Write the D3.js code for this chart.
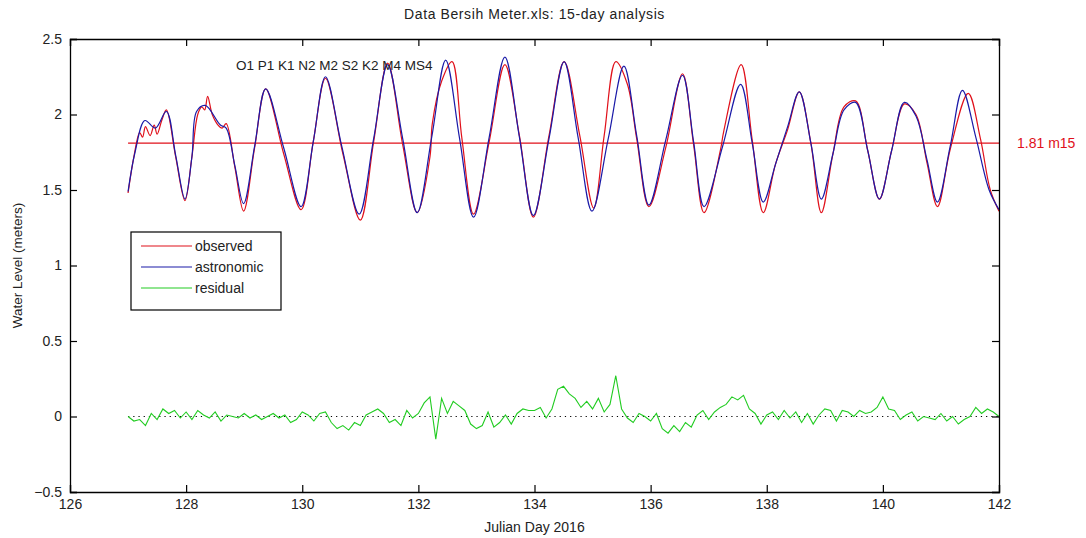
<!DOCTYPE html>
<html>
<head>
<meta charset="utf-8">
<script src="https://cdn.jsdelivr.net/npm/d3@7"></script>
<style>
    body { margin: 0; background: #ffffff; }
    #renderBox { display: block; }
    text { font-family: 'Liberation Sans', Arial, sans-serif; fill: #222; }
</style>
</head>
<body>
<svg id="renderBox" width="1086" height="538"></svg>
<script>

// [julian day, meters]
const astronomic = [
    [127.0,1.49],[127.12,1.75],[127.29,1.96],[127.47,1.91],[127.66,2.02],[127.82,1.73],[127.98,1.44],
    [128.1,1.72],[128.18,2.02],[128.33,2.06],[128.59,1.93],[128.69,1.91],[128.84,1.66],[128.99,1.41],
    [129.18,1.79],[129.37,2.17],[129.68,1.78],[129.98,1.39],[130.19,1.82],[130.40,2.25],[130.68,1.79],
    [130.98,1.34],[131.23,1.84],[131.47,2.33],[131.73,1.84],[131.98,1.35],[132.23,1.85],[132.47,2.36],
    [132.71,1.84],[132.95,1.32],[133.22,1.85],[133.49,2.38],[133.74,1.85],[133.98,1.33],[134.25,1.84],
    [134.51,2.35],[134.75,1.85],[134.99,1.36],[135.27,1.84],[135.54,2.32],[135.76,1.86],[135.97,1.40],
    [136.26,1.83],[136.55,2.26],[136.74,1.82],[136.92,1.39],[137.24,1.79],[137.55,2.20],[137.75,1.81],
    [137.94,1.42],[138.15,1.67],[138.36,1.92],[138.56,2.15],[138.76,1.81],[138.94,1.44],[139.14,1.74],
    [139.33,2.03],[139.53,2.08],[139.74,1.76],[139.94,1.44],[140.15,1.76],[140.37,2.08],[140.57,1.99],
    [140.76,1.70],[140.94,1.42],[141.16,1.79],[141.37,2.16],[141.6,1.85],[141.83,1.50],[142.0,1.37]
];

const observed = [
    [127.0,1.48],[127.1,1.72],[127.2,1.88],[127.25,1.85],[127.3,1.92],[127.38,1.86],[127.45,1.93],
    [127.5,1.87],[127.58,1.96],[127.66,2.03],[127.82,1.72],[127.98,1.43],[128.1,1.72],[128.2,2.00],
    [128.27,2.05],[128.32,2.03],[128.37,2.12],[128.45,2.00],[128.55,1.93],[128.62,1.91],[128.69,1.94],
    [128.84,1.65],[128.99,1.36],[129.18,1.78],[129.37,2.17],[129.68,1.74],[129.98,1.37],[130.19,1.82],
    [130.40,2.24],[130.70,1.74],[131.0,1.30],[131.23,1.82],[131.47,2.34],[131.73,1.80],[131.98,1.35],
    [132.2,1.72],[132.24,1.94],[132.40,2.22],[132.58,2.35],[132.75,1.84],[132.95,1.34],[133.22,1.82],
    [133.49,2.33],[133.74,1.86],[133.98,1.32],[134.25,1.86],[134.51,2.35],[134.78,1.86],[135.02,1.38],
    [135.2,1.86],[135.40,2.35],[135.6,2.20],[135.76,1.84],[135.97,1.39],[136.26,1.78],[136.55,2.27],
    [136.74,1.80],[136.92,1.35],[137.2,1.76],[137.26,1.89],[137.56,2.33],[137.75,1.83],[137.94,1.35],
    [138.15,1.67],[138.36,1.90],[138.56,2.15],[138.76,1.81],[138.94,1.35],[139.14,1.74],[139.33,2.05],
    [139.53,2.09],[139.74,1.76],[139.94,1.44],[140.15,1.76],[140.37,2.07],[140.57,2.00],[140.76,1.68],
    [140.94,1.39],[141.16,1.77],[141.47,2.14],[141.68,1.84],[141.85,1.50],[142.0,1.36]
];

// residual every 0.1 day from 127.0 to 142.0
const residualStart = 127.0;
const residualStep  = 0.1;
const residual = [
     0.00,-0.03,-0.02,-0.06, 0.02,-0.02, 0.05, 0.02, 0.04,-0.01,
     0.03,-0.02, 0.04, 0.01,-0.01, 0.03,-0.03, 0.01, 0.00,-0.01,
     0.02,-0.01, 0.01,-0.02, 0.00, 0.02,-0.01, 0.01,-0.04,-0.02,
     0.03, 0.01,-0.03, 0.02, 0.03,-0.04,-0.08,-0.06,-0.09,-0.04,
    -0.06, 0.01, 0.03, 0.05, 0.02,-0.04,-0.02,-0.06, 0.04,-0.01,
     0.02, 0.09, 0.13,-0.15, 0.12, 0.02, 0.10, 0.07, 0.04,-0.05,
    -0.08,-0.06, 0.03,-0.07,-0.04, 0.01,-0.05, 0.02, 0.05, 0.04,
     0.04, 0.06,-0.01, 0.05, 0.18, 0.20, 0.15, 0.12, 0.06, 0.10,
     0.05, 0.12, 0.03, 0.08, 0.27, 0.05,-0.01,-0.04, 0.02, 0.00,
    -0.03, 0.02,-0.08,-0.11,-0.06,-0.10,-0.04,-0.07, 0.01, 0.04,
    -0.02, 0.03, 0.06, 0.08, 0.13, 0.11, 0.14, 0.05, 0.02,-0.05,
     0.01, 0.03,-0.02, 0.04,-0.01, 0.03,-0.04, 0.02,-0.05, 0.01,
     0.05, 0.04,-0.03, 0.04, 0.03, 0.00, 0.04, 0.02, 0.03, 0.06,
     0.13, 0.05, 0.04,-0.02, 0.01, 0.03,-0.03, 0.00,-0.01,-0.02,
     0.02,-0.03, 0.00,-0.05,-0.02, 0.00, 0.06, 0.02, 0.05, 0.03,
     0.00
];

const meanLevel     = 1.81;
const meanLabel     = '1.81 m15';
const constituents  = 'O1 P1 K1 N2 M2 S2 K2 M4 MS4';
const xTicks        = [126, 128, 130, 132, 134, 136, 138, 140, 142];
const yTicks        = [-0.5, 0, 0.5, 1, 1.5, 2, 2.5];
const legendNames   = ['observed', 'astronomic', 'residual'];

const WIDTH                 =   1086;
const HEIGHT                =   538;
const margin                =   { left: 70, right: 87, top: 39, bottom: 46 };
const plotW                 =   WIDTH - margin.left - margin.right;
const plotH                 =   HEIGHT - margin.top - margin.bottom;
const redColor              =   '#e0101a';
const blueColor             =   '#1a1aa8';
const greenColor            =   '#22cc22';

const svg = d3.select('#renderBox');

const x = d3.scaleLinear().domain([126, 142]).range([margin.left, margin.left + plotW]);
const y = d3.scaleLinear().domain([-0.5, 2.5]).range([margin.top + plotH, margin.top]);

const line = d3.line()
    .x(d => x(d[0]))
    .y(d => y(d[1]));

const residualPts = residual.map((v, i) => [residualStart + i * residualStep, v]);

// zero reference
svg.append('line')
    .attr('x1', x(127)).attr('x2', x(142))
    .attr('y1', y(0)).attr('y2', y(0))
    .attr('stroke', '#000').attr('stroke-width', 1.2)
    .attr('stroke-dasharray', '1.2,4');

// mean level
svg.append('line')
    .attr('x1', x(127)).attr('x2', x(142))
    .attr('y1', y(meanLevel)).attr('y2', y(meanLevel))
    .attr('stroke', redColor).attr('stroke-width', 1.3);

svg.append('path')
    .datum(observed)
    .attr('d', line.curve(d3.curveCatmullRom.alpha(0.5)))
    .attr('fill', 'none')
    .attr('stroke', redColor)
    .attr('stroke-width', 1.2);

svg.append('path')
    .datum(astronomic)
    .attr('d', line.curve(d3.curveCatmullRom.alpha(0.5)))
    .attr('fill', 'none')
    .attr('stroke', blueColor)
    .attr('stroke-width', 1.2);

svg.append('path')
    .datum(residualPts)
    .attr('d', line.curve(d3.curveLinear))
    .attr('fill', 'none')
    .attr('stroke', greenColor)
    .attr('stroke-width', 1.1);

// axes box with inward ticks on all four sides
const tickLen = 7;
const axisLeft = d3.axisLeft(y).tickValues(yTicks).tickSize(-tickLen).tickPadding(tickLen + 6)
    .tickFormat(d => d === 0 ? '0' : d3.format('')(d));
const axisRight = d3.axisRight(y).tickValues(yTicks).tickSize(-tickLen).tickFormat('');
const axisBottom = d3.axisBottom(x).tickValues(xTicks).tickSize(-tickLen).tickPadding(tickLen + 6);
const axisTop = d3.axisTop(x).tickValues(xTicks).tickSize(-tickLen).tickFormat('');

const gL = svg.append('g').attr('transform', `translate(${margin.left},0)`).call(axisLeft);
const gR = svg.append('g').attr('transform', `translate(${margin.left + plotW},0)`).call(axisRight);
const gB = svg.append('g').attr('transform', `translate(0,${margin.top + plotH})`).call(axisBottom);
const gT = svg.append('g').attr('transform', `translate(0,${margin.top})`).call(axisTop);

[gL, gR, gB, gT].forEach(g => {
    g.selectAll('.domain').attr('stroke', '#000').attr('stroke-width', 1.3);
    g.selectAll('.tick line').attr('stroke', '#000').attr('stroke-width', 1.2);
    g.selectAll('.tick text')
        .style('font-family', "'Liberation Sans', Arial, sans-serif")
        .style('font-size', '14px')
        .attr('fill', '#333');
});
gL.selectAll('.tick text').attr('x', -8);
gB.selectAll('.tick text').attr('y', 7);

// title and labels
svg.append('text')
    .attr('x', margin.left + plotW / 2).attr('y', 19)
    .attr('text-anchor', 'middle')
    .style('font-size', '14px')
    .style('letter-spacing', '0.6px')
    .text('Data Bersih Meter.xls: 15-day analysis');

svg.append('text')
    .attr('x', margin.left + plotW / 2).attr('y', 532)
    .attr('text-anchor', 'middle')
    .style('font-size', '14px')
    .text('Julian Day 2016');

svg.append('text')
    .attr('transform', `translate(22,${margin.top + plotH / 2}) rotate(-90)`)
    .attr('text-anchor', 'middle')
    .style('font-size', '13.5px')
    .text('Water Level (meters)');

svg.append('text')
    .attr('x', 236).attr('y', 70)
    .style('font-size', '13.5px')
    .attr('fill', '#111')
    .text(constituents);

svg.append('text')
    .attr('x', x(142) + 18).attr('y', y(meanLevel) + 5)
    .style('font-size', '14px')
    .style('fill', redColor)
    .text(meanLabel);

// legend
const legendColors = [redColor, blueColor, greenColor];
const legend = svg.append('g').attr('transform', 'translate(131,232)');
legend.append('rect')
    .attr('width', 150).attr('height', 78)
    .attr('fill', '#fff').attr('stroke', '#000').attr('stroke-width', 1.2);

legendNames.forEach((name, i) => {
    const ly = 14 + i * 21;
    legend.append('line')
        .attr('x1', 10).attr('x2', 61)
        .attr('y1', ly).attr('y2', ly)
        .attr('stroke', legendColors[i]).attr('stroke-width', 1.2);
    legend.append('text')
        .attr('x', 64).attr('y', ly + 5)
        .style('font-size', '14px')
        .text(name);
});

</script>
</body>
</html>
